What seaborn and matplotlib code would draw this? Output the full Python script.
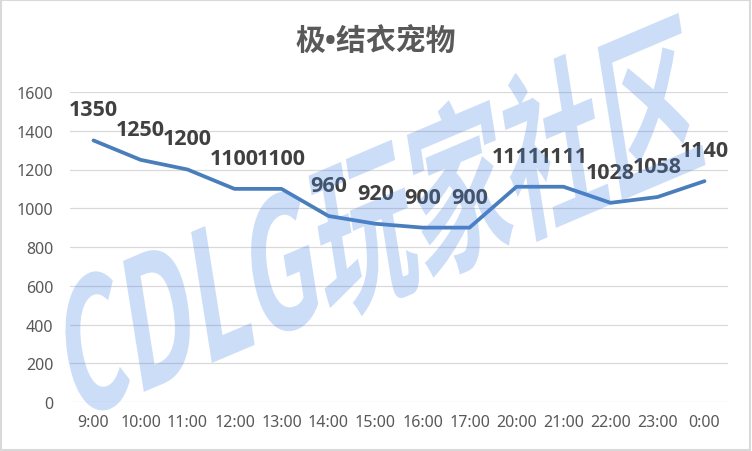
import numpy as np
import pandas as pd
import matplotlib
matplotlib.use("Agg")
import matplotlib.pyplot as plt
import seaborn as sns
from matplotlib.textpath import TextPath
from matplotlib.font_manager import FontProperties
from matplotlib.patches import PathPatch, Rectangle
from matplotlib.transforms import Affine2D, IdentityTransform

# données
heures = ["9:00", "10:00", "11:00", "12:00", "13:00", "14:00", "15:00",
          "16:00", "17:00", "20:00", "21:00", "22:00", "23:00", "0:00"]
valeurs = [1350, 1250, 1200, 1100, 1100, 960, 920, 900, 900, 1111, 1111, 1028, 1058, 1140]
titre = "极•结衣宠物"
filigrane = "CDLG玩家社区"

df = pd.DataFrame({"heure": heures, "valeur": valeurs})

sns.set_theme(style="white")
plt.rcParams["font.family"] = ["Noto Sans", "DejaVu Sans"]

fig = plt.figure(figsize=(7.52, 4.52), dpi=100)
ax = fig.add_axes([70 / 752, 1 - 403 / 452, 658 / 752, 310 / 452])

# grille
ax.set_ylim(0, 1600)
ax.set_yticks(range(0, 1601, 200))
ax.yaxis.grid(True, color="#d9d9d9", linewidth=0.9)
ax.set_axisbelow(True)

sns.lineplot(data=df, x="heure", y="valeur", sort=False, ax=ax,
             color="#4a7ebb", linewidth=2.7, zorder=3)
ax.set_xlim(-0.5, len(heures) - 0.5)

for i, v in enumerate(valeurs):
    ax.annotate(str(v), (i, v), xytext=(0, 22), textcoords="offset points",
                ha="center", va="center", fontsize=15.5, fontweight="bold",
                family=["Open Sans", "DejaVu Sans"], color="#404040", zorder=5)

for s in ax.spines.values():
    s.set_visible(False)
ax.set_xlabel("")
ax.set_ylabel("")
ax.tick_params(axis="both", length=0, labelsize=11.5, labelcolor="#595959")
ax.tick_params(axis="x", pad=9)
ax.tick_params(axis="y", pad=12)

fig.text(0.5, 1 - 43 / 452, titre, ha="center", va="center", fontsize=21.5,
         fontweight="bold", color="#595959",
         family=["Open Sans", "Noto Sans CJK SC", "DejaVu Sans"])

# filigrane
tp = TextPath((0, 0), filigrane, size=100,
              prop=FontProperties(family="Noto Sans CJK SC", weight="bold"))
bb = tp.get_extents()
tr = (Affine2D().translate(-(bb.x0 + bb.x1) / 2, -(bb.y0 + bb.y1) / 2)
      .scale(680 / bb.width, 165 / bb.height)
      .skew_deg(14, 0)
      .rotate_deg(23)
      .translate(380, 452 - 220))
wm = PathPatch(tr.transform_path(tp), facecolor="#4a86e8", edgecolor="none",
               alpha=0.28, transform=IdentityTransform(), zorder=1)
fig.patches.append(wm)

# bordure
fig.patches.append(Rectangle((0.001, 0.002), 0.997, 0.995, transform=fig.transFigure,
                             fill=False, edgecolor="#d9d9d9", linewidth=1.5))

fig.savefig("out.png", dpi=100)
